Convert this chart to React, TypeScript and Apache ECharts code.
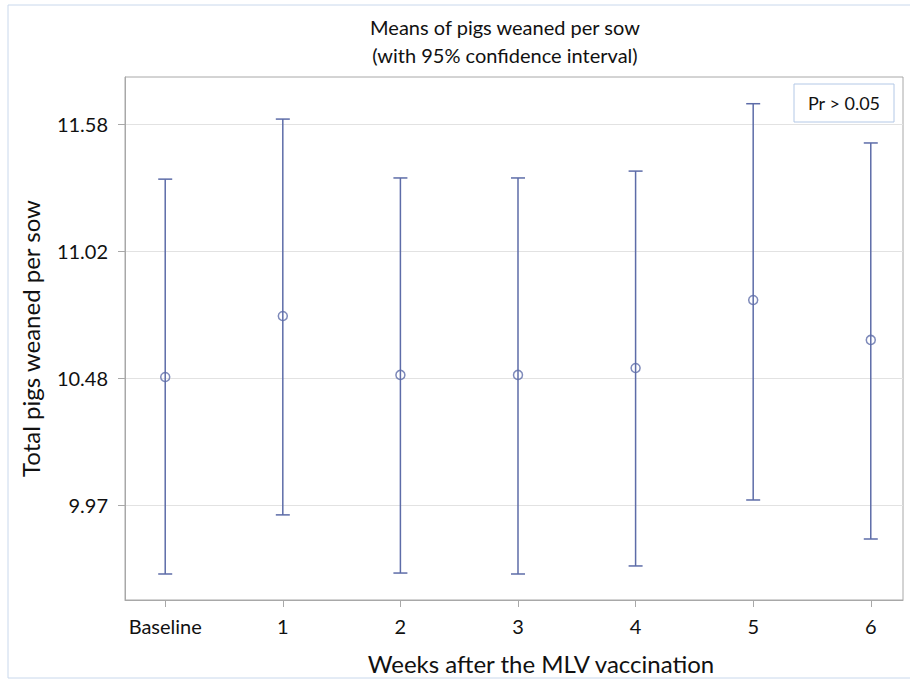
import React, { useEffect, useRef } from "react";
import * as echarts from "echarts";

const categories = ["Baseline", "1", "2", "3", "4", "5", "6"];
const means = [10.511, 10.769, 10.52, 10.52, 10.549, 10.837, 10.668];
const lower = [9.678, 9.928, 9.682, 9.678, 9.712, 9.991, 9.826];
const upper = [11.348, 11.602, 11.353, 11.353, 11.382, 11.667, 11.501];
const yTickValues = [9.97, 10.5067, 11.0433, 11.58];
const yTickLabels = ["9.97", "10.48", "11.02", "11.58"];
const xTickValues = [0, 1, 2, 3, 4, 5, 6];

const BLUE = "#5d6ca8";
const FONT = "Lato, 'Open Sans', sans-serif";
const TXT = "#111";

export default function App() {
  const ref = useRef<HTMLDivElement>(null);
  useEffect(() => {
    if (!ref.current) return;
    const chart = echarts.init(ref.current, undefined, { renderer: "svg" });
    const errData = categories.map((_, i) => [i, lower[i], upper[i]]);
    const meanData = categories.map((_, i) => [i, means[i]]);
    chart.setOption({
      animation: false,
      backgroundColor: "#fff",
      textStyle: { fontFamily: FONT },
      title: {
        text: "Means of pigs weaned per sow\n(with 95% confidence interval)",
        left: 500,
        textAlign: "center",
        top: 8,
        textStyle: { fontSize: 20, fontWeight: "normal", color: TXT, lineHeight: 28, fontFamily: FONT },
      },
      grid: {
        left: 125,
        top: 77,
        right: 7,
        bottom: 79,
        show: true,
        borderColor: "#a8a8a8",
        borderWidth: 1,
        containLabel: false,
        outerBoundsMode: "none",
      },
      xAxis: {
        type: "value",
        min: -0.342,
        max: 6.274,
        name: "Weeks after the MLV vaccination",
        nameLocation: "middle",
        nameGap: 51,
        nameTextStyle: { fontSize: 24, color: TXT, padding: [0, 0, 0, 54], fontFamily: FONT },
        axisLine: { show: true, onZero: false, lineStyle: { color: "#a8a8a8" } },
        axisTick: { show: true, length: 7, customValues: xTickValues, lineStyle: { color: "#a8a8a8" } },
        axisLabel: {
          customValues: xTickValues,
          formatter: (v: number) => categories[Math.round(v)],
          fontSize: 20,
          color: TXT,
          margin: 16,
          fontFamily: FONT,
        },
        splitLine: { show: false },
      },
      yAxis: {
        type: "value",
        min: 9.568,
        max: 11.78,
        name: "Total pigs weaned per sow",
        nameLocation: "middle",
        nameGap: 83,
        nameRotate: 90,
        nameTextStyle: { fontSize: 24, color: TXT, fontFamily: FONT },
        axisLine: { show: true, onZero: false, lineStyle: { color: "#a8a8a8" } },
        axisTick: { show: true, length: 7, customValues: yTickValues, lineStyle: { color: "#a8a8a8" } },
        axisLabel: {
          customValues: yTickValues,
          formatter: (v: number) => {
            const idx = yTickValues.findIndex((t) => Math.abs(t - v) < 1e-6);
            return idx >= 0 ? yTickLabels[idx] : "";
          },
          fontSize: 20,
          color: TXT,
          margin: 17,
          fontFamily: FONT,
        },
        splitLine: { show: true, lineStyle: { color: "#e2e2e2" } },
      },
      graphic: [
        {
          type: "rect",
          shape: { x: 8, y: 5, width: 930, height: 673 },
          style: { fill: "none", stroke: "#c9d8ec", lineWidth: 1 },
          silent: true,
          z: 0,
        },
        {
          type: "rect",
          shape: { x: 794, y: 84, width: 100, height: 38 },
          style: { fill: "#fff", stroke: "#b3c8e6", lineWidth: 1 },
          z: 10,
        },
        {
          type: "text",
          x: 844,
          y: 103,
          style: {
            text: "Pr > 0.05",
            fontSize: 18,
            fill: TXT,
            align: "center",
            verticalAlign: "middle",
            fontFamily: FONT,
          },
          z: 11,
        },
      ],
      series: [
        {
          type: "custom",
          data: errData,
          encode: { x: 0, y: [1, 2] },
          renderItem: (params: any, api: any) => {
            const x = api.value(0);
            const lo = api.coord([x, api.value(1)]);
            const hi = api.coord([x, api.value(2)]);
            const w = 7;
            const style = { stroke: BLUE, lineWidth: 1.5, fill: "none" };
            return {
              type: "group",
              children: [
                { type: "line", shape: { x1: hi[0], y1: hi[1], x2: lo[0], y2: lo[1] }, style },
                { type: "line", shape: { x1: hi[0] - w, y1: hi[1], x2: hi[0] + w, y2: hi[1] }, style },
                { type: "line", shape: { x1: lo[0] - w, y1: lo[1], x2: lo[0] + w, y2: lo[1] }, style },
              ],
            };
          },
          z: 2,
        },
        {
          type: "scatter",
          data: meanData,
          symbol: "circle",
          symbolSize: 9,
          itemStyle: { color: "rgba(255,255,255,0)", borderColor: BLUE, borderWidth: 1.5 },
          z: 3,
        },
      ],
    });
    return () => chart.dispose();
  }, []);
  return (
    <div
      ref={ref}
      style={{ position: "fixed", left: 0, top: 0, width: 910, height: 679 }}
    />
  );
}
